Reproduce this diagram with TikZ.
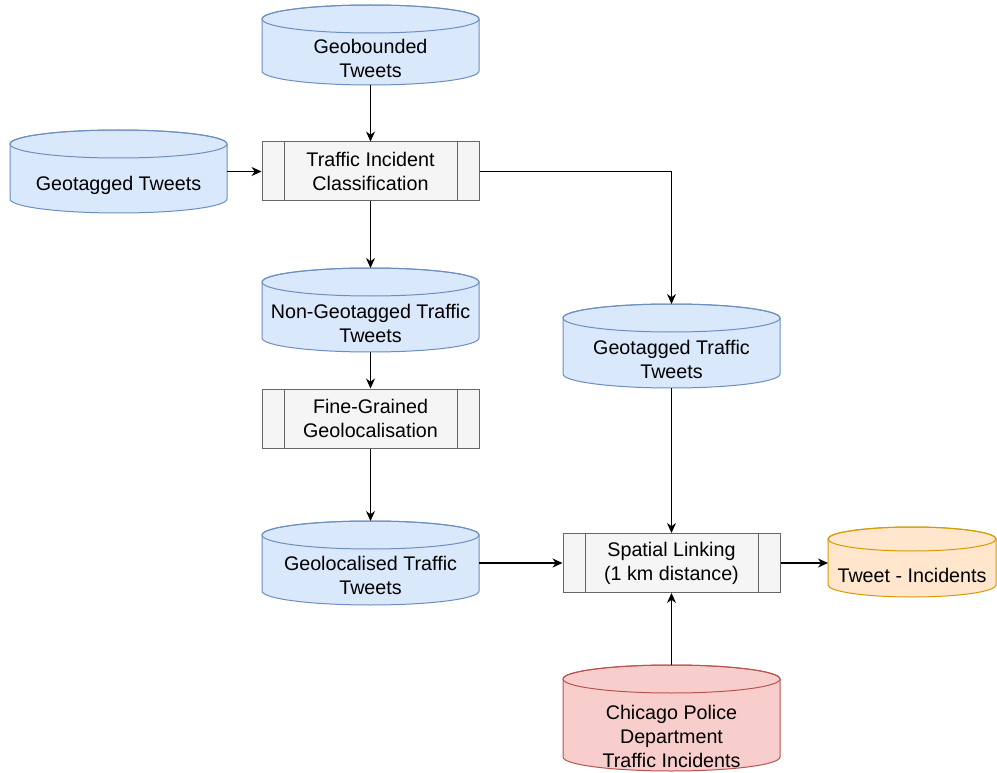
\documentclass[tikz,border=0pt]{standalone}
\usepackage{fontspec}
\setmainfont{Liberation Sans}
\usetikzlibrary{arrows.meta}
\definecolor{bfill}{HTML}{DAE8FC}
\definecolor{bdraw}{HTML}{6C8EBF}
\definecolor{ofill}{HTML}{FFE6CC}
\definecolor{odraw}{HTML}{D79B00}
\definecolor{rfill}{HTML}{F8CECC}
\definecolor{rdraw}{HTML}{B85450}
\definecolor{pfill}{HTML}{F5F5F5}
\definecolor{pdraw}{HTML}{666666}
\tikzset{
  blue db/.style={fill=bfill,draw=bdraw},
  orange db/.style={fill=ofill,draw=odraw},
  red db/.style={fill=rfill,draw=rdraw},
  lbl/.style={align=center,inner sep=0pt,font=\fontsize{19.7}{24}\selectfont},
  anchorbox/.style={inner sep=0pt,outer sep=0pt},
  procbox/.style={draw=pdraw,fill=pfill,line width=1pt,minimum width=217pt,minimum height=59pt,
    align=center,inner sep=0pt,font=\fontsize{19.7}{24}\selectfont,
    path picture={\draw[pdraw,line width=1pt]
      ([xshift=22pt]path picture bounding box.north west) -- ([xshift=22pt]path picture bounding box.south west)
      ([xshift=-22pt]path picture bounding box.north east) -- ([xshift=-22pt]path picture bounding box.south east);}},
  conn/.style={line width=1.1pt,-{Stealth[length=10pt,width=9pt]}}
}
% #1 name, #2 left, #3 right, #4 top, #5 bottom, #6 ry, #7 style, #8 text y, #9 text
\newcommand{\dbcyl}[9]{%
  \pgfmathsetmacro\cylcx{(#2+#3)/2}%
  \pgfmathsetmacro\cylrx{(#3-#2)/2}%
  \pgfmathsetmacro\cylcy{-(#4+#5)/2}%
  \pgfmathsetmacro\cylw{#3-#2}%
  \pgfmathsetmacro\cylh{#5-#4}%
  \path[#7,line width=1pt] (#2,-#4-#6) -- (#2,-#5+#6)
    arc[start angle=180,end angle=360,x radius=\cylrx pt,y radius=#6 pt]
    -- (#3,-#4-#6)
    arc[start angle=0,end angle=180,x radius=\cylrx pt,y radius=#6 pt] -- cycle;
  \path[#7,line width=1pt,fill=none] (\cylcx,-#4-#6) ellipse[x radius=\cylrx pt,y radius=#6 pt];
  \node[anchorbox,minimum width=\cylw pt,minimum height=\cylh pt] (#1) at (\cylcx,\cylcy) {};
  \node[lbl] (#1-t) at (\cylcx,-#8) {#9};
}
\begin{document}
\begin{tikzpicture}[x=1pt,y=1pt]
\useasboundingbox (0,0) rectangle (997,-773);
\fill[white] (0,0) rectangle (997,-773);

\dbcyl{gb}{262}{479}{5}{85}{14}{blue db}{58}{Geobounded\\Tweets}
\dbcyl{gt}{10}{227}{130}{213}{14}{blue db}{185}{Geotagged Tweets}
\dbcyl{ngt}{262}{479}{268}{352}{14}{blue db}{323}{Non-Geotagged Traffic\\Tweets}
\dbcyl{gtt}{563}{780}{304}{388}{14}{blue db}{359}{Geotagged Traffic\\Tweets}
\dbcyl{glt}{262}{479}{521}{605}{14}{blue db}{575}{Geolocalised Traffic\\Tweets}
\dbcyl{ti}{828}{996}{527}{597}{12}{orange db}{575}{Tweet - Incidents}
\dbcyl{cpd}{563}{780}{665}{771}{14}{red db}{736}{Chicago Police\\Department\\Traffic Incidents}

\node[procbox] (tic) at (370.5,-171.5) {Traffic Incident\\Classification};
\node[procbox] (fg) at (370.5,-418.5) {Fine-Grained\\Geolocalisation};
\node[procbox] (sl) at (671.5,-563) {Spatial Linking\\(1 km distance)};

\draw[conn] (gb) -- (tic);
\draw[conn] (gt.east) -- (tic.west);
\draw[conn] (tic.east) -| (gtt.north);
\draw[conn] (tic) -- (ngt);
\draw[conn] (ngt) -- (fg);
\draw[conn] (fg) -- (glt);
\draw[conn] (glt.east) -- (sl.west);
\draw[conn] (gtt) -- (sl);
\draw[conn] (cpd) -- (sl);
\draw[conn] (sl.east) -- (sl.east -| ti.west);
\end{tikzpicture}
\end{document}
